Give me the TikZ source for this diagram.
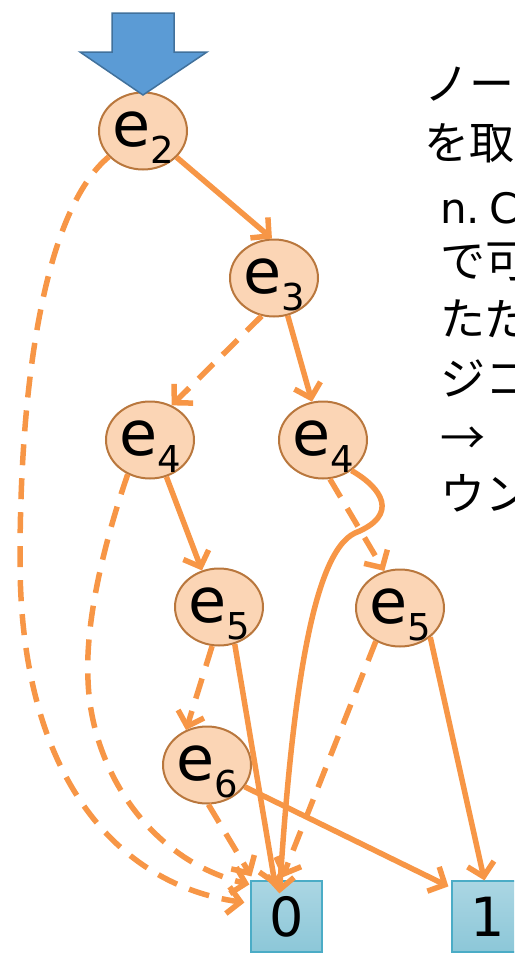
\documentclass[tikz,border=0pt]{standalone}
\usepackage{fontspec}
\setmainfont{DejaVu Sans}
\newfontfamily\jpfont{Noto Sans CJK JP}
\usetikzlibrary{shapes.geometric,arrows.meta,calc}
\definecolor{eor}{HTML}{F79646}
\definecolor{nfill}{HTML}{FBD5B5}
\definecolor{nbd}{HTML}{B9773D}
\definecolor{afill}{HTML}{5B9BD5}
\definecolor{abd}{HTML}{41719C}
\definecolor{btop}{HTML}{ABD6E3}
\definecolor{bbot}{HTML}{8CC7D8}
\definecolor{bbd}{HTML}{4BACC6}
\tikzset{
  enode/.style={ellipse, draw=nbd, line width=2pt, fill=nfill, minimum width=88pt, minimum height=77pt, inner sep=0pt, text height=38pt, text depth=8pt, font=\fontsize{62}{62}\selectfont},
  tnode/.style={rectangle, draw=bbd, line width=1.2pt, top color=btop, bottom color=bbot, minimum width=71pt, minimum height=71pt, inner sep=0pt, font=\fontsize{54}{54}\selectfont},
  sedge/.style={draw=eor, line width=5.5pt, -{Straight Barb[length=13pt,width=27pt]}},
  dedge/.style={sedge, dash pattern=on 21pt off 13pt},
  txt/.style={anchor=base west, inner sep=0pt, font=\fontsize{45}{45}\selectfont\jpfont},
  bigarrow/.style={fill=afill, draw=abd, line width=1.5pt, line join=miter}
}
\newcommand{\lab}[1]{e\raisebox{-17pt}{\fontsize{37}{37}\selectfont #1}}
\begin{document}
\begin{tikzpicture}[x=1pt,y=-1pt]
\useasboundingbox (0,0) rectangle (514,953);
\clip (0,0) rectangle (514,953);
% nodes
\node[enode] (e2) at (143,131) {\lab{2}};
\node[enode] (e3) at (274,278) {\lab{3}};
\node[enode] (e4L) at (150,440) {\lab{4}};
\node[enode] (e4R) at (323,440) {\lab{4}};
\node[enode] (e5L) at (219,607) {\lab{5}};
\node[enode] (e5R) at (400,608) {\lab{5}};
\node[enode] (e6) at (207,765) {\lab{6}};
\node[tnode] (b0) at (286.5,916.5) {0};
\node[tnode] (b1) at (487.5,916.5) {1};
% entry arrow
\draw[bigarrow] (112,13) -- (174,13) -- (174,52) -- (207,52) -- (143,95) -- (80,52) -- (112,52) -- cycle;
% text
\node[txt] (t1) at (424,100) {ノー};
\node[txt] (t2) at (424,159) {を取};
\node[txt, font=\fontsize{42}{42}\selectfont] (t3) at (440,223) {n.\kern9pt C};
\node[txt] (t4) at (440,277) {で可};
\node[txt] (t5) at (440,335) {ただ};
\node[txt] (t6) at (440,395) {ジコ};
\node[txt] (t7) at (440,454) {→};
\node[txt] (t8) at (440,510) {ウン};
% edges
\draw[sedge] (e2.-38) -- (e3.93);
\draw[dedge] (e2.-143) .. controls (45,210) and (20,380) .. (20,560) .. controls (20,780) and (120,885) .. ($(b0.west)+(-6,-14)$);
\draw[dedge] (e3.-108) -- (e4L.58);
\draw[sedge] (e3.-70) -- (e4R.106);
\draw[sedge] (e4L.-66) -- (e5L.115);
\draw[dedge] (e4L.-123) .. controls (105,540) and (85,620) .. (88,680) .. controls (91,770) and (150,860) .. ($(b0.north west)+(-1,4)$);
\draw[dedge] (e4R.-80) -- (e5R.113);
\draw[sedge] (e4R.-47) .. controls (382,488) and (400,515) .. (355,533) .. controls (312,553) and (292,700) .. ($(b0.north west)+(29,13)$);
\draw[dedge] (e5L.-100) -- (e6.121);
\draw[sedge] (e5L.-67) -- ($(b0.north west)+(25,6)$);
\draw[dedge] (e5R.-126) -- ($(b0.north west)+(32,-3)$);
\draw[sedge] (e5R.-44) -- ($(b1.north west)+(33,0)$);
\draw[dedge] (e6.-88) -- ($(b0.north west)+(1,-4)$);
\draw[sedge] (e6.-30) -- ($(b1.north west)+(-3,6)$);
\end{tikzpicture}
\end{document}
